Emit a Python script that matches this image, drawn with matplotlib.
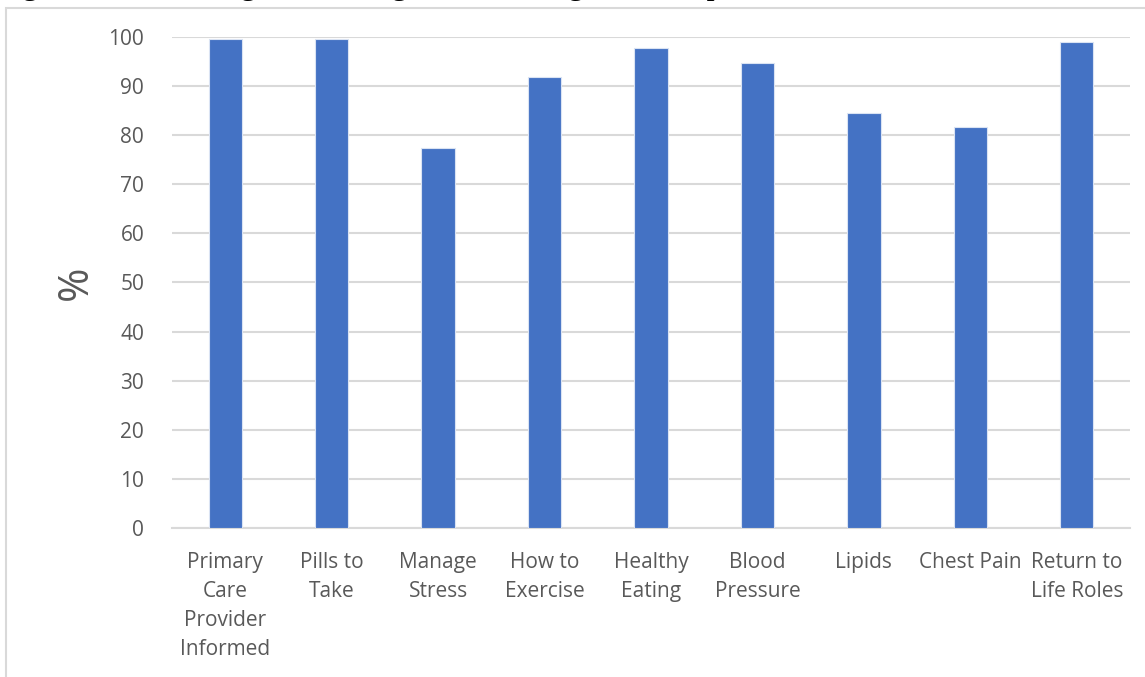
"""Knowledge post-program bar chart (percent of program completers)."""

import matplotlib.pyplot as plt
from matplotlib.patches import Rectangle
import numpy as np

categories = [
    "Primary\nCare\nProvider\nInformed",
    "Pills to\nTake",
    "Manage\nStress",
    "How to\nExercise",
    "Healthy\nEating",
    "Blood\nPressure",
    "Lipids",
    "Chest Pain",
    "Return to\nLife Roles",
]
percent = [99.5, 99.5, 77.4, 91.8, 97.8, 94.6, 84.4, 81.6, 98.9]
y_ticks = list(range(0, 101, 10))
title = "Figure 3. Knowledge Post-Program, All Program Completers"


def main() -> None:
    plt.rcParams["font.family"] = ["Open Sans", "DejaVu Sans"]
    fig = plt.figure(figsize=(11.45, 6.77), dpi=100)
    ax = fig.add_axes([172 / 1145, 148.8 / 677, 958 / 1145, 491.5 / 677])

    x = np.arange(len(categories))
    ax.bar(x, percent, width=0.313, color="#4472c4", edgecolor="#dae3f3", linewidth=0.8, zorder=3)

    ax.set_xlim(-0.5, len(categories) - 0.5)
    ax.set_ylim(0, 100)
    ax.set_yticks(y_ticks)
    ax.set_xticks(x)
    ax.set_xticklabels(categories, linespacing=1.5)
    ax.tick_params(axis="y", length=0, pad=20, labelsize=15, labelcolor="#595959")
    ax.tick_params(axis="x", length=0, pad=17, labelsize=15, labelcolor="#595959")
    ax.grid(axis="y", color="#d9d9d9", linewidth=1.5, zorder=0)
    for side in ("top", "right", "left"):
        ax.spines[side].set_visible(False)
    ax.spines["bottom"].set_color("#d9d9d9")
    ax.spines["bottom"].set_linewidth(1.5)
    ax.set_ylabel("%", fontsize=30, color="#595959", labelpad=8)

    # outer chart frame, cut off by the image edges
    fig.patches.append(Rectangle((6 / 1145, -0.2), 1.2, 1.2 - 8 / 677,
                                 transform=fig.transFigure, fill=False,
                                 edgecolor="#d9d9d9", linewidth=1.5))
    fig.text(-0.004, 1 + 6 / 677, title, family="Liberation Serif", fontsize=23.5,
             va="baseline", ha="left", color="black")

    fig.savefig("out.png", dpi=100)


if __name__ == "__main__":
    main()
